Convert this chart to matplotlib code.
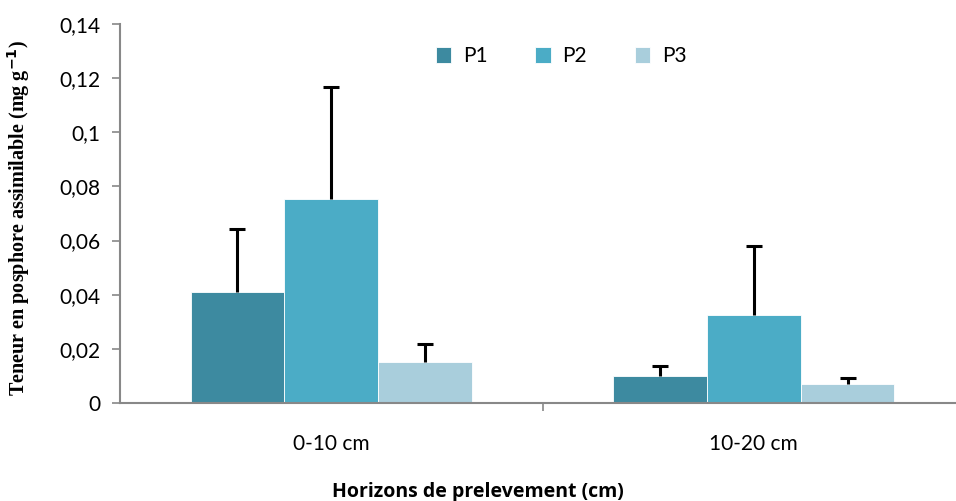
import matplotlib
matplotlib.use("Agg")
import matplotlib.pyplot as plt
import numpy as np

# data
horizons = ["0-10 cm", "10-20 cm"]
series = ["P1", "P2", "P3"]
p1 = [0.0409, 0.0100]
p2 = [0.0754, 0.0325]
p3 = [0.0150, 0.0070]
p1_err = [0.0233, 0.0038]
p2_err = [0.0413, 0.0255]
p3_err = [0.0067, 0.0021]
yticks = [0, 0.02, 0.04, 0.06, 0.08, 0.1, 0.12, 0.14]
ytick_labels = ["0", "0,02", "0,04", "0,06", "0,08", "0,1", "0,12", "0,14"]

colors = ["#3D8AA0", "#4BACC6", "#A9CEDC"]

fig = plt.figure(figsize=(9.56, 5.01), dpi=100)
# axes spans 120..965 px horizontally, 24..403 px vertically
ax = fig.add_axes([120 / 956, (501 - 403) / 501, (965 - 120) / 956, (403 - 24) / 501])

x = np.arange(len(horizons))
w = 0.222
values = [p1, p2, p3]
errs = [p1_err, p2_err, p3_err]
for i, (v, e) in enumerate(zip(values, errs)):
    pos = x + (i - 1) * w
    top = np.array(v) + np.array(e)
    ax.bar(pos, v, width=w, color=colors[i], label=series[i],
           edgecolor="white", linewidth=0.6, zorder=2)
    # upper error only, with a cap at the top end
    ax.vlines(pos, v, top, color="black", linewidth=2.2, zorder=3)
    ax.plot(pos, top, linestyle="none", marker="_", markersize=11,
            markeredgewidth=2.2, color="black", zorder=3)

ax.set_xlim(-0.5, 1.5)
ax.set_ylim(0, 0.14)
ax.set_yticks(yticks)
ax.set_yticklabels(ytick_labels, fontfamily="Lato", fontsize=15)

# category labels with ticks at the boundaries
ax.set_xticks([0.5])
ax.set_xticklabels([""])
ax.set_xticks(x, minor=True)
ax.set_xticklabels(horizons, minor=True, fontfamily="Lato", fontsize=15)
ax.tick_params(axis="x", which="minor", length=0, pad=22)
ax.tick_params(axis="x", which="major", length=6, color="#888888", width=1.2)
ax.tick_params(axis="y", length=6, color="#888888", width=1.2, pad=8)

for s in ["top", "right"]:
    ax.spines[s].set_visible(False)
for s in ["left", "bottom"]:
    ax.spines[s].set_color("#888888")
    ax.spines[s].set_linewidth(1.5)

fig.text(19 / 956, 1 - 218 / 501,
         "Teneur en posphore assimilable (mg g$^{\\mathbf{-1}}$)",
         rotation=90, ha="center", va="center",
         fontfamily="Liberation Serif", fontweight="bold", fontsize=14.5)
fig.text(0.5, 1 - 492 / 501, "Horizons de prelevement (cm)", ha="center", va="center",
         fontfamily="Open Sans", fontweight="bold", fontsize=14)

leg = ax.legend(loc="center", bbox_to_anchor=(0.522, 0.915), ncol=3,
                frameon=False, prop={"family": "Lato", "size": 15},
                handlelength=0.75, handleheight=0.75, columnspacing=2.3, handletextpad=0.55)

plt.savefig("out.png", dpi=100)
